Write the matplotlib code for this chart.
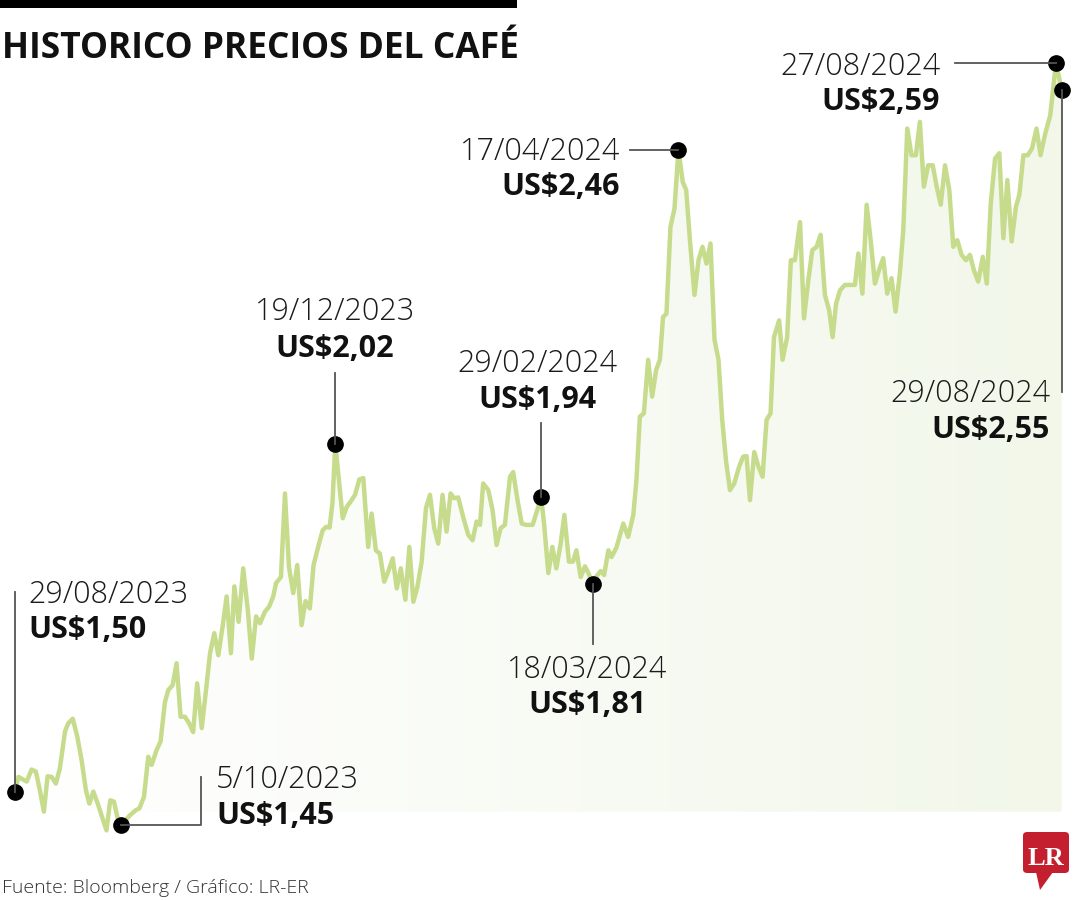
import numpy as np
import pandas as pd
import matplotlib
matplotlib.use("Agg")
import matplotlib.pyplot as plt
import matplotlib.dates as mdates
from matplotlib.colors import LinearSegmentedColormap
from matplotlib.patches import Polygon, FancyBboxPatch, Rectangle
from matplotlib.lines import Line2D

# precio del cafe (US$/libra), dias desde el 29/08/2023
inicio = pd.Timestamp("2023-08-29")
dias = [0, 1.2, 4.1, 5.8, 7.3, 8.7, 10.1, 11.4, 12.8, 14.3, 15.7, 17.5, 18.6, 20.2, 21.8, 23.3,
        24.8, 26.0, 27.4, 29.1, 30.6, 32.0, 33.3, 34.6, 35.8, 37, 40.3, 42.2, 43.5, 45.1, 46.6,
        47.8, 49.5, 50.9, 52.4, 53.6, 55.1, 56.5, 57.9, 59.4, 60.9, 62.3, 63.7, 65.3, 66.8, 68.2,
        69.7, 71.1, 72.6, 74.0, 75.5, 76.7, 78.2, 79.8, 81.4, 82.8, 84.3, 85.7, 87.4, 88.9, 90.3,
        91.3, 93.0, 94.4, 95.8, 97.3, 98.7, 100.2, 101.6, 103.1, 104.4, 106.0, 107.6, 108.8, 110.0,
        111.0, 112, 114.6, 116.0, 117.4, 118.9, 120.4, 121.8, 123.5, 124.7, 126.2, 127.6, 129.1,
        130.5, 132.1, 133.5, 134.9, 136.5, 137.9, 139.3, 140.7, 142.2, 143.7, 145.1, 146.6, 148.0,
        149.5, 150.9, 152.3, 153.5, 155.0, 156.7, 158.5, 160.0, 161.4, 162.6, 163.7, 165.5, 167.0,
        168.4, 169.8, 171.3, 173.1, 174.2, 175.8, 177.2, 178.7, 181.0, 184, 185.0, 186.5, 187.9,
        189.3, 190.8, 192.1, 193.7, 195.1, 196.3, 197.8, 199.3, 200.5, 202, 203.5, 204.8, 206.0,
        207.5, 208.6, 210.3, 212.7, 214.4, 216.2, 217.3, 218.5, 219.9, 221.4, 222.8, 224.2, 225.5,
        226.6, 227.8, 229.2, 230.6, 232, 233.5, 234.7, 236.0, 237.6, 239.0, 240.4, 241.8, 243.2,
        244.6, 246.0, 247.3, 248.6, 250.0, 251.5, 253.2, 254.6, 255.8, 257.0, 258.5, 259.9, 261.4,
        262.8, 264.2, 265.4, 267.2, 268.4, 270.0, 271.3, 272.7, 274.5, 275.9, 277.4, 278.8, 280.3,
        281.7, 283.2, 284.7, 285.9, 287.1, 288.5, 290.2, 292.0, 293.7, 294.9, 296.3, 297.8, 299.2,
        300.7, 302.1, 303.6, 305.0, 306.5, 307.9, 309.4, 310.6, 312.0, 313.5, 315.0, 316.4, 317.8,
        319.3, 320.9, 322.3, 323.7, 325.2, 326.7, 328.1, 329.5, 331.0, 332.5, 333.9, 335.3, 336.8,
        338.4, 339.8, 341.2, 342.7, 344.2, 345.6, 347.0, 348.5, 350.0, 351.2, 352.6, 354.1, 355.6,
        357.2, 358.6, 360.1, 362.0, 364, 365, 366]
precio = [1.50, 1.522, 1.515, 1.533, 1.530, 1.502, 1.470, 1.523, 1.522, 1.512, 1.535, 1.590, 1.602,
          1.609, 1.582, 1.547, 1.502, 1.482, 1.500, 1.480, 1.460, 1.442, 1.487, 1.485, 1.462, 1.45,
          1.465, 1.472, 1.475, 1.492, 1.552, 1.540, 1.562, 1.575, 1.633, 1.652, 1.659, 1.692, 1.612,
          1.612, 1.602, 1.589, 1.662, 1.595, 1.652, 1.707, 1.737, 1.704, 1.747, 1.792, 1.707, 1.807,
          1.754, 1.834, 1.772, 1.699, 1.762, 1.752, 1.769, 1.777, 1.792, 1.812, 1.821, 1.946, 1.836,
          1.797, 1.839, 1.749, 1.785, 1.774, 1.839, 1.866, 1.891, 1.896, 1.895, 1.931, 2.02, 1.909,
          1.926, 1.934, 1.944, 1.967, 1.969, 1.866, 1.916, 1.861, 1.856, 1.814, 1.829, 1.849, 1.804,
          1.834, 1.787, 1.866, 1.784, 1.806, 1.844, 1.924, 1.944, 1.894, 1.871, 1.944, 1.889, 1.946,
          1.939, 1.940, 1.911, 1.884, 1.876, 1.904, 1.899, 1.961, 1.951, 1.921, 1.869, 1.894, 1.899,
          1.971, 1.978, 1.934, 1.901, 1.899, 1.899, 1.94, 1.901, 1.827, 1.866, 1.834, 1.871, 1.914,
          1.844, 1.844, 1.861, 1.821, 1.837, 1.827, 1.81, 1.823, 1.830, 1.824, 1.861, 1.851, 1.865,
          1.901, 1.881, 1.914, 1.966, 2.061, 2.066, 2.146, 2.091, 2.131, 2.146, 2.210, 2.215, 2.345,
          2.372, 2.46, 2.412, 2.400, 2.325, 2.243, 2.295, 2.315, 2.290, 2.320, 2.176, 2.146, 2.056,
          1.996, 1.951, 1.961, 1.986, 2.001, 2.002, 1.936, 2.008, 1.987, 1.971, 2.056, 2.066, 2.180,
          2.205, 2.146, 2.180, 2.295, 2.295, 2.352, 2.208, 2.265, 2.310, 2.315, 2.333, 2.243, 2.220,
          2.180, 2.230, 2.250, 2.258, 2.258, 2.258, 2.305, 2.245, 2.378, 2.325, 2.260, 2.280, 2.298,
          2.245, 2.268, 2.218, 2.275, 2.340, 2.492, 2.452, 2.452, 2.502, 2.405, 2.437, 2.437, 2.405,
          2.378, 2.437, 2.400, 2.315, 2.325, 2.303, 2.295, 2.303, 2.280, 2.263, 2.300, 2.260, 2.380,
          2.447, 2.455, 2.328, 2.415, 2.323, 2.375, 2.393, 2.452, 2.452, 2.462, 2.492, 2.452, 2.482,
          2.512, 2.59, 2.57, 2.55]

ann_fechas = ["29/08/2023", "5/10/2023", "19/12/2023", "29/02/2024",
              "18/03/2024", "17/04/2024", "27/08/2024", "29/08/2024"]
ann_precios = [1.50, 1.45, 2.02, 1.94, 1.81, 2.46, 2.59, 2.55]

titulo = "HISTORICO PRECIOS DEL CAFÉ"
fuente = "Fuente: Bloomberg / Gráfico: LR-ER"

W, H = 1080, 900
FONT = ["Open Sans", "DejaVu Sans"]
VERDE = "#c6dc8c"

fig = plt.figure(figsize=(W / 100, H / 100), dpi=100)
fig.patch.set_facecolor("white")
ax = fig.add_axes([0, 0, 1, 1])
ax.axis("off")

fechas = inicio + pd.to_timedelta(dias, unit="D")
x = mdates.date2num(fechas)
x0 = mdates.date2num(inicio)

# relleno degradado bajo la linea
base = 1.47
verts = np.column_stack([np.r_[x, x[::-1]], np.r_[precio, np.full(len(x), base)]])
zona = Polygon(verts, closed=True, facecolor="none", edgecolor="none")
ax.add_patch(zona)
cmap = LinearSegmentedColormap.from_list("fondo", ["#ffffff", "#f2f7ea"])
grad = np.linspace(0, 1, 256).reshape(1, -1)
im = ax.imshow(grad, extent=[x[0], x[-1], base, max(precio)], aspect="auto",
               cmap=cmap, zorder=1, interpolation="bilinear")
im.set_clip_path(zona)

ax.plot(x, precio, color=VERDE, lw=3.2, zorder=3, solid_joinstyle="round")

ax.set_xlim(x0 - 5.24, x0 + 372.4)
ax.set_ylim(1.3378, 2.6843)


def fx(px):
    return px / W


def fy(py):
    return 1 - py / H


# lineas guia en pixeles de pantalla (dx, dy hacia abajo) desde cada punto
guias = [[(0, -200)], [(80, 0), (80, -48)], [(0, -71)], [(0, -74)],
         [(0, 60)], [(-48, 0)], [(-101, 0)], [(0, 302)]]
# posicion de textos (x, linea base fecha, linea base valor, alineacion)
pos_txt = [(28, 603, 638, "left"), (216, 788, 824, "left"), (335, 320, 357, "center"),
           (537, 372, 408, "center"), (587, 678, 713, "center"), (620, 160, 195, "right"),
           (940, 75, 110, "right"), (1050, 402, 438, "right")]

fig.canvas.draw()
for i in range(len(ann_fechas)):
    fd = mdates.date2num(pd.to_datetime(ann_fechas[i], dayfirst=True))
    p = ann_precios[i]
    ax.plot(fd, p, "o", color="black", ms=11, zorder=6)
    dx, dy = ax.transData.transform((fd, p))
    sx, sy = dx, H - dy
    xs = [sx] + [sx + o[0] for o in guias[i]]
    ys = [sy] + [sy + o[1] for o in guias[i]]
    fig.add_artist(Line2D([fx(v) for v in xs], [fy(v) for v in ys], transform=fig.transFigure,
                          color="#555555", lw=1.3, zorder=4))
    tx, b1, b2, ha = pos_txt[i]
    fig.text(fx(tx), fy(b1), ann_fechas[i], ha=ha, va="baseline", fontsize=22,
             family=FONT, fontweight="light", color="#1a1a1a")
    etiqueta = "US$" + "{:.2f}".format(p).replace(".", ",")
    fig.text(fx(tx), fy(b2), etiqueta, ha=ha, va="baseline", fontsize=22,
             family=FONT, fontweight="bold", color="#111111")

# cabecera
fig.add_artist(Rectangle((0, fy(8)), fx(517), 8 / H, transform=fig.transFigure,
                         color="black", lw=0))
fig.text(fx(2), fy(58), titulo, ha="left", va="baseline", fontsize=25.5,
         family=FONT, fontweight="bold", color="#111111")

# pie
fig.text(fx(2), fy(893), fuente, ha="left", va="baseline", fontsize=14,
         family=FONT, fontweight="light", color="#333333")

# logo LR
fig.add_artist(FancyBboxPatch((fx(1023), fy(873)), fx(46), 41 / H,
                              boxstyle="round,pad=0,rounding_size=0.004",
                              transform=fig.transFigure, color="#c41f2e", lw=0))
fig.add_artist(Polygon([(fx(1036), fy(872)), (fx(1053), fy(872)), (fx(1040), fy(890))],
                       closed=True, transform=fig.transFigure, color="#c41f2e", lw=0))
fig.text(fx(1046), fy(865), "LR", ha="center", va="baseline", fontsize=19,
         family=["Liberation Serif", "DejaVu Serif"], fontweight="bold", color="white")

fig.savefig("out.png", dpi=100, facecolor="white")
